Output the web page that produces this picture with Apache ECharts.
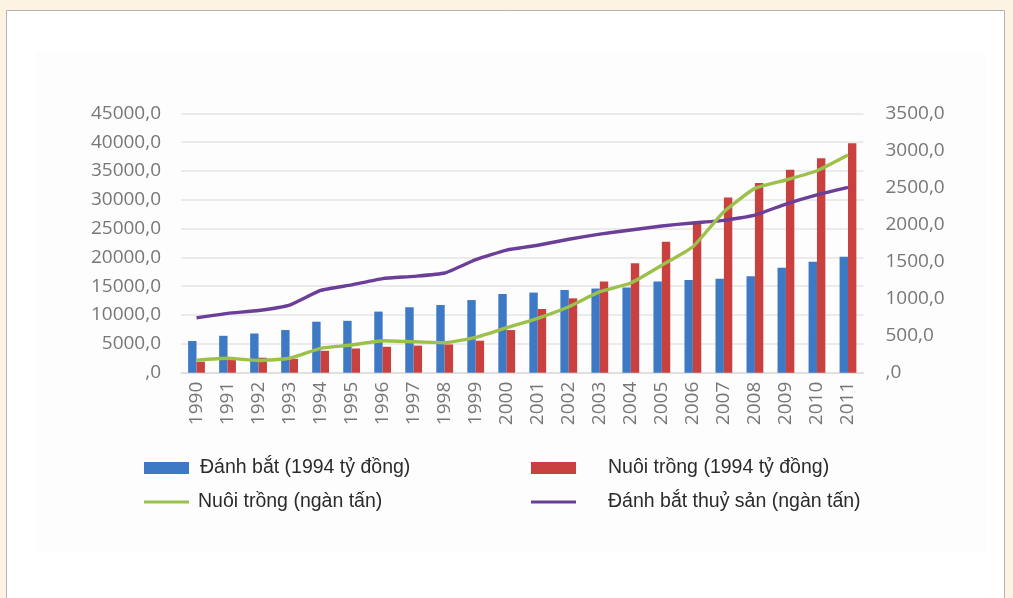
<!DOCTYPE html>
<html>
<head>
<meta charset="utf-8">
<script src="https://cdn.jsdelivr.net/npm/echarts@6/dist/echarts.min.js"></script>
<style>
  html, body { margin: 0; padding: 0; background: #fdf3e3; }
  #chart { width: 1013px; height: 598px; }
</style>
</head>
<body>
<div id="chart"></div>
<script>
// Years on the category axis
const years = ['1990','1991','1992','1993','1994','1995','1996','1997','1998','1999','2000',
               '2001','2002','2003','2004','2005','2006','2007','2008','2009','2010','2011'];

// Production value at 1994 prices (tỷ đồng) – left axis
const danhBatValue = [5500, 6400, 6800, 7400, 8850, 9000, 10600, 11350, 11750, 12600, 13650,
                      13900, 14350, 14600, 14800, 15800, 16100, 16300, 16750, 18200, 19250, 20100];
const nuoiTrongValue = [1900, 2600, 2600, 2400, 3800, 4200, 4500, 4700, 4900, 5550, 7400,
                        11050, 12900, 15800, 19000, 22700, 25900, 30400, 32900, 35200, 37200, 39800];

// Output volume (ngàn tấn) – right axis
const nuoiTrongTons = [170, 195, 165, 195, 329, 374, 432, 418, 405, 477, 607,
                       734, 890, 1093, 1210, 1450, 1700, 2172, 2487, 2600, 2725, 2937];
const danhBatTons = [740, 800, 840, 913, 1110, 1185, 1270, 1300, 1345, 1525, 1655,
                     1720, 1800, 1870, 1925, 1980, 2020, 2055, 2127, 2276, 2400, 2500];

// Axis ranges / tick steps
const leftMax = 45000, leftStep = 5000;
const rightMax = 3500, rightStep = 500;

const names = {
  danhBatValue: 'Đánh bắt (1994 tỷ đồng)',
  nuoiTrongValue: 'Nuôi trồng (1994 tỷ đồng)',
  nuoiTrongTons: 'Nuôi trồng (ngàn tấn)',
  danhBatTons: 'Đánh bắt thuỷ sản (ngàn tấn)'
};

const colors = { blue: '#3d79c4', red: '#c9413f', green: '#9cc14a', purple: '#6b3f98' };

const axisFont = { color: '#777777', fontFamily: 'Open Sans', fontSize: 19 };
const legendFont = { color: '#2b2b2b', fontFamily: 'Liberation Sans', fontSize: 19.5 };

// Number format with a decimal comma; zero shows as ",0"
const fmt = v => (v === 0 ? '' : String(v)) + ',0';

const chart = echarts.init(document.getElementById('chart'), null, { renderer: 'canvas' });

chart.setOption({
  animation: false,
  backgroundColor: '#fdf3e3',
  graphic: [
    { type: 'rect', z: -20, silent: true,
      shape: { x: 6.5, y: 10.5, width: 998, height: 600 },
      style: { fill: '#ffffff', stroke: '#b3b3b3', lineWidth: 1 } },
    { type: 'rect', z: -19, silent: true,
      shape: { x: 36, y: 52, width: 950, height: 500 },
      style: { fill: '#fdfdfd' } }
  ],
  grid: { left: 181, right: 149.5, top: 113.3, bottom: 225.3, containLabel: false },
  legend: [
    { left: 139, top: 453, itemWidth: 45, itemHeight: 12, icon: 'rect',
      data: [names.danhBatValue], textStyle: Object.assign({ padding: [0, 0, 0, 6] }, legendFont) },
    { left: 526, top: 453, itemWidth: 45, itemHeight: 12, icon: 'rect',
      data: [names.nuoiTrongValue], textStyle: Object.assign({ padding: [0, 0, 0, 27] }, legendFont) },
    { left: 139, top: 487, itemWidth: 45, itemHeight: 3, icon: 'rect',
      data: [names.nuoiTrongTons], textStyle: Object.assign({ padding: [0, 0, 0, 4] }, legendFont) },
    { left: 526, top: 487, itemWidth: 45, itemHeight: 3, icon: 'rect',
      data: [names.danhBatTons], textStyle: Object.assign({ padding: [0, 0, 0, 27] }, legendFont) }
  ],
  xAxis: {
    type: 'category',
    data: years,
    axisLine: { show: true, lineStyle: { color: '#dcdcdc', width: 1.5 } },
    axisTick: { show: false },
    axisLabel: Object.assign({ rotate: 90, margin: 9, interval: 0 }, axisFont)
  },
  yAxis: [
    {
      type: 'value', min: 0, max: leftMax, interval: leftStep,
      axisLine: { show: false }, axisTick: { show: false },
      splitLine: { lineStyle: { color: '#e4e4e4', width: 1.5 } },
      axisLabel: Object.assign({ margin: 20, formatter: fmt }, axisFont)
    },
    {
      type: 'value', min: 0, max: rightMax, interval: rightStep, position: 'right',
      axisLine: { show: false }, axisTick: { show: false },
      splitLine: { show: false },
      axisLabel: Object.assign({ margin: 22, formatter: fmt }, axisFont)
    }
  ],
  series: [
    { name: names.danhBatValue, type: 'bar', yAxisIndex: 0, data: danhBatValue,
      barWidth: 8.4, barGap: '0%', itemStyle: { color: colors.blue } },
    { name: names.nuoiTrongValue, type: 'bar', yAxisIndex: 0, data: nuoiTrongValue,
      barWidth: 8.4, barGap: '0%', itemStyle: { color: colors.red } },
    { name: names.nuoiTrongTons, type: 'line', yAxisIndex: 1, data: nuoiTrongTons,
      symbol: 'none', smooth: 0.15, z: 4,
      lineStyle: { color: colors.green, width: 3.4, join: 'round' },
      itemStyle: { color: colors.green } },
    { name: names.danhBatTons, type: 'line', yAxisIndex: 1, data: danhBatTons,
      symbol: 'none', smooth: 0.15, z: 3,
      lineStyle: { color: colors.purple, width: 3.4, join: 'round' },
      itemStyle: { color: colors.purple } }
  ]
});
</script>
</body>
</html>
